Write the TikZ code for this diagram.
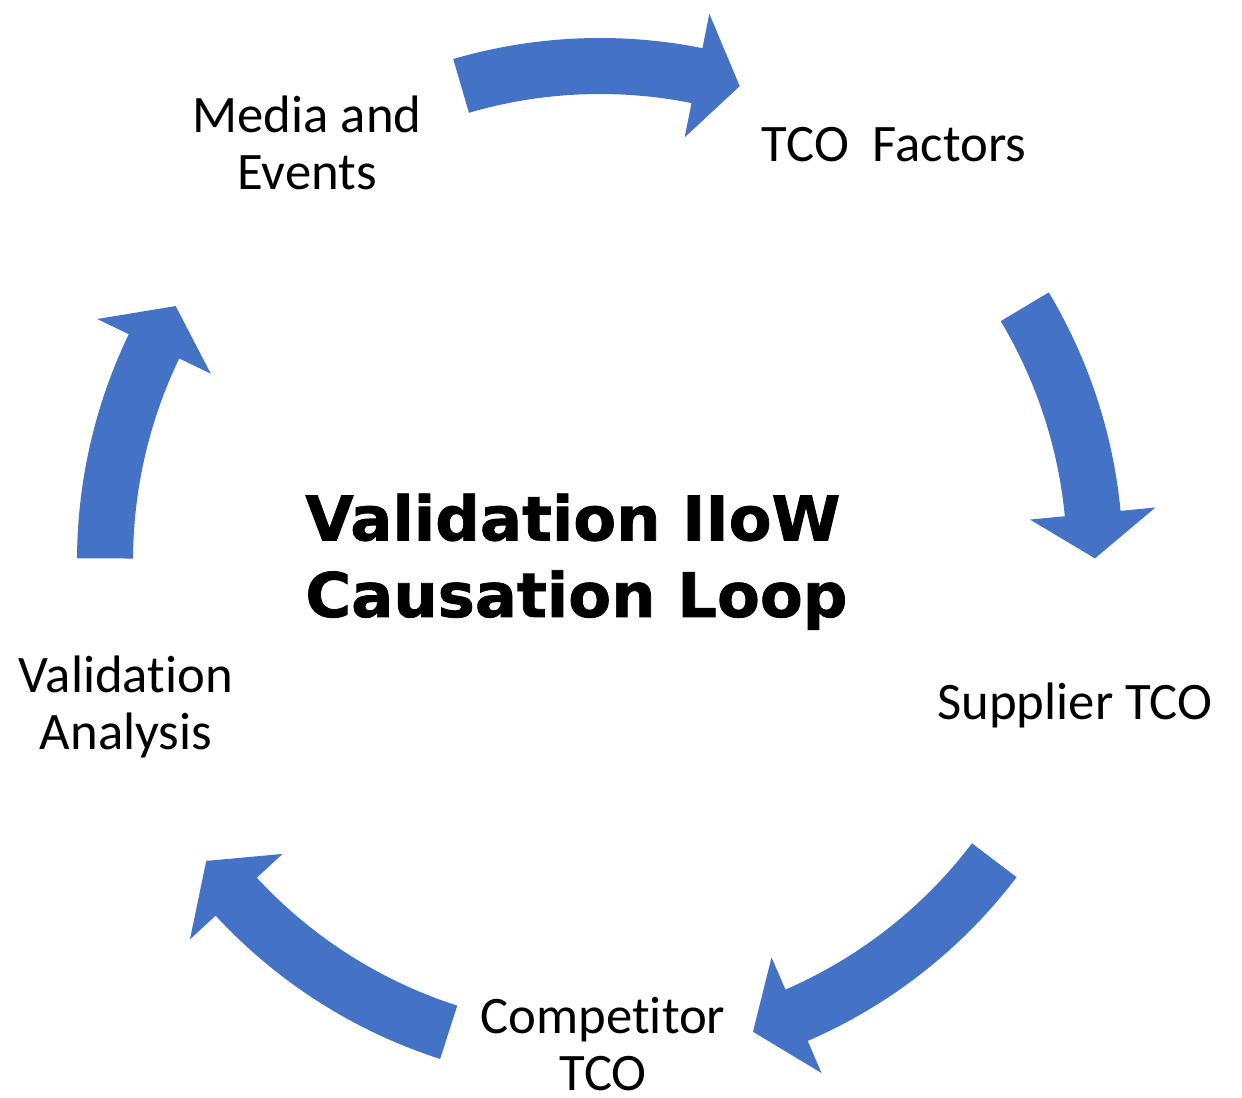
\documentclass[tikz,border=0pt]{standalone}
\usepackage{fontspec}
\setmainfont{Carlito}[Ligatures={NoCommon}]
\newfontfamily\titlefont{DejaVu Sans}[BoldFeatures={FakeBold=1.2,FakeStretch=1.015}]
\definecolor{loopblue}{HTML}{4472C4}

\tikzset{
  loop arrow/.style={fill=loopblue},
  stage/.style={font=\fontsize{30}{32.9}\selectfont, align=center, anchor=base, inner sep=0pt},
  loop title/.style={font=\titlefont\bfseries\fontsize{35}{43.6}\selectfont, align=left, anchor=base west, inner sep=0pt}
}

\begin{document}
\begin{tikzpicture}[x=0.02cm, y=0.02cm]

    % Frame of the picture (pixel grid, y up)
    \useasboundingbox (0,0) rectangle (1242,1098);

    % Centre of the loop
    \coordinate (hub) at (600,537);

    % Five curved block arrows: tail angle / head angle / tip angle
    \begin{scope}[shift={(hub)}]
    \foreach \t/\h/\p in {106.3/78.7/73.6, 30.9/5.5/0.3, -37.2/-66.6/-72.0, -107.8/-137.3/-142.7, 179.7/154.3/149.0}
        \fill[loop arrow] (\t:467) arc[start angle=\t, end angle=\h, radius=467]
            -- (\h:432) -- (\p:495) -- (\h:558) -- (\h:523)
            arc[start angle=\h, end angle=\t, radius=523] -- cycle;
    \end{scope}

    % Stage labels (multi-line nodes sit on their last baseline)
    \node[stage] (media) at (307,908) {Media and\\Events};
    \node[stage] (factors) at (894,936) {TCO~~Factors};
    \node[stage] (supplier) at (1075,378) {Supplier TCO};
    \node[stage, text depth=0pt] (competitor) at (603,7) {Competitor\\TCO};
    \node[stage] (analysis) at (126,348) {Validation\\Analysis};

    % Title in the middle
    \node[loop title] (title) at (305,481) {Validation IIoW\\Causation Loop};

\end{tikzpicture}
\end{document}
